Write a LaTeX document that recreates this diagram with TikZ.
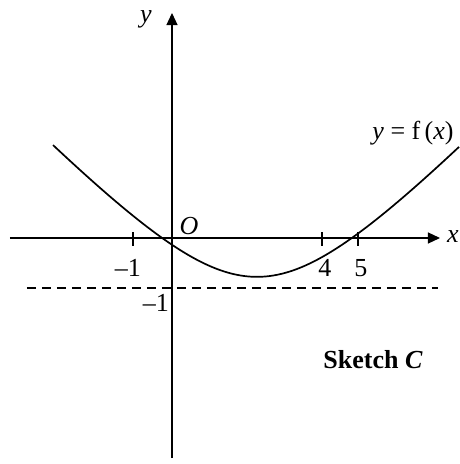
\documentclass[tikz,border=0pt]{standalone}
\usepackage{fontspec}
\setmainfont{Liberation Serif}
\usetikzlibrary{arrows.meta, positioning}

\begin{document}
\begin{tikzpicture}[x=1pt, y=1pt, font=\fontsize{26}{30}\selectfont]
	\useasboundingbox (-172,-226) rectangle (288,238);
	% axes
	\coordinate (xleft) at (-162,0);
	\coordinate (xright) at (268,0);
	\coordinate (ybottom) at (0,-220);
	\coordinate (ytop) at (0,225);
	\draw[line width=1.2pt, -{Triangle[length=12pt, width=11pt]}] (xleft) -- (xright);
	\draw[line width=1.2pt, -{Triangle[length=12pt, width=11pt]}] (ybottom) -- (ytop);
	\node (xlabel) at (281,1) {\textit{x}};
	\node (ylabel) at (-26,219) {\textit{y}};
	\node (origin) at (17,12) {\textit{O}};
	% ticks
	\foreach \t in {-39, 150, 186}
		\draw[line width=1.1pt] (\t,6) -- (\t,-8);
	\node (xminus) at (-44,-30) {\textendash1};
	\node (xfour) at (153,-30) {4};
	\node (xfive) at (189,-30) {5};
	% asymptote y = -1
	\coordinate (dleft) at (-145,-50);
	\coordinate (dright) at (266,-50);
	\draw[line width=1.1pt, dash pattern=on 9pt off 6pt] (dleft) -- (dright);
	\node (yminus) at (-16,-65) {\textendash1};
	% curve
	\draw[line width=1.7pt] plot[domain=-119:287, samples=120]
		(\x, {10*1.05*sqrt(((\x-85)/10)^2+10.3^2)-147});
	\node (curvelabel) at (241,105) {\textit{y} = f\,(\textit{x})};
	\node (sketch) at (201,-122) {\textbf{Sketch \textit{C}}};
\end{tikzpicture}
\end{document}
